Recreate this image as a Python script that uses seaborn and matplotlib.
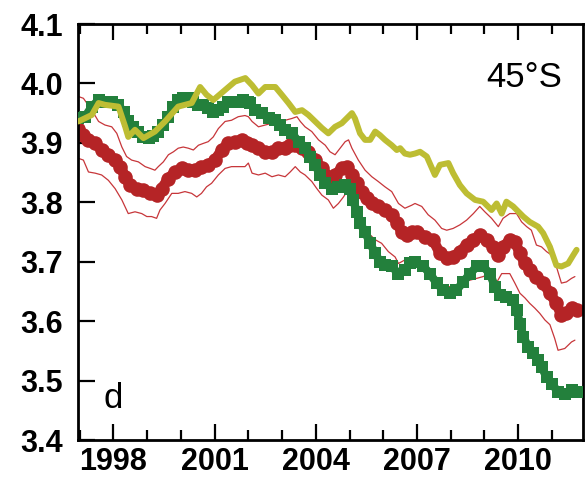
import matplotlib
matplotlib.use("Agg")
import matplotlib.pyplot as plt
import seaborn as sns
import pandas as pd
from matplotlib.ticker import MultipleLocator

# ---- series (decimal year, value) ----
olive_year = [1996.96, 1997.36, 1997.56, 1997.75, 1998.15, 1998.35, 1998.44, 1998.64, 1998.89,
              1999.23, 1999.53, 1999.92, 2000.32, 2000.57, 2000.76, 2000.96, 2001.31, 2001.60,
              2001.91, 2002.11, 2002.30, 2002.50, 2002.80, 2002.99, 2003.19, 2003.39, 2003.59,
              2003.78, 2003.98, 2004.18, 2004.37, 2004.57, 2004.77, 2005.07, 2005.16, 2005.31,
              2005.46, 2005.61, 2005.76, 2005.90, 2006.05, 2006.25, 2006.40, 2006.50, 2006.64,
              2006.79, 2006.94, 2007.09, 2007.29, 2007.53, 2007.68, 2007.93, 2008.07, 2008.27,
              2008.47, 2008.72, 2008.96, 2009.21, 2009.36, 2009.51, 2009.65, 2009.85, 2010.15,
              2010.34, 2010.59, 2010.74, 2010.94, 2011.13, 2011.28, 2011.48, 2011.63, 2011.73]
olive_val = [3.936, 3.947, 3.967, 3.964, 3.961, 3.927, 3.910, 3.922, 3.908,
             3.919, 3.936, 3.961, 3.967, 3.994, 3.981, 3.972, 3.989, 4.003,
             4.009, 3.997, 3.983, 3.994, 3.994, 3.981, 3.967, 3.952, 3.955,
             3.947, 3.936, 3.925, 3.916, 3.927, 3.933, 3.950, 3.941, 3.916,
             3.905, 3.905, 3.919, 3.913, 3.905, 3.896, 3.888, 3.891, 3.882,
             3.880, 3.882, 3.885, 3.877, 3.846, 3.863, 3.866, 3.849, 3.829,
             3.815, 3.804, 3.801, 3.787, 3.798, 3.781, 3.801, 3.793, 3.776,
             3.767, 3.759, 3.748, 3.725, 3.694, 3.692, 3.697, 3.711, 3.720]

green_year = [1996.96, 1997.16, 1997.36, 1997.56, 1997.75, 1997.95, 1998.15, 1998.30, 1998.44,
              1998.59, 1998.74, 1998.89, 1999.04, 1999.18, 1999.33, 1999.48, 1999.63, 1999.78,
              1999.92, 2000.07, 2000.22, 2000.37, 2000.52, 2000.66, 2000.81, 2000.96, 2001.11,
              2001.26, 2001.40, 2001.55, 2001.70, 2001.85, 2002.00, 2002.06, 2002.20, 2002.40,
              2002.60, 2002.80, 2002.94, 2003.09, 2003.29, 2003.49, 2003.68, 2003.83, 2003.98,
              2004.13, 2004.28, 2004.47, 2004.67, 2004.87, 2005.02, 2005.11, 2005.21, 2005.31,
              2005.46, 2005.61, 2005.76, 2005.90, 2006.05, 2006.25, 2006.45, 2006.64, 2006.79,
              2006.94, 2007.19, 2007.38, 2007.58, 2007.78, 2007.98, 2008.17, 2008.37, 2008.57,
              2008.77, 2008.96, 2009.16, 2009.31, 2009.46, 2009.65, 2009.85, 2009.95, 2010.05,
              2010.15, 2010.29, 2010.44, 2010.59, 2010.69, 2010.84, 2010.99, 2011.18, 2011.38,
              2011.58, 2011.73]
green_val = [3.941, 3.944, 3.961, 3.972, 3.969, 3.968, 3.964, 3.952, 3.936,
             3.927, 3.919, 3.910, 3.908, 3.912, 3.919, 3.930, 3.944, 3.961,
             3.972, 3.975, 3.975, 3.969, 3.964, 3.964, 3.958, 3.952, 3.955,
             3.961, 3.968, 3.969, 3.969, 3.972, 3.969, 3.967, 3.955, 3.950,
             3.941, 3.938, 3.930, 3.922, 3.916, 3.902, 3.891, 3.877, 3.863,
             3.846, 3.832, 3.823, 3.826, 3.829, 3.823, 3.804, 3.784, 3.765,
             3.750, 3.731, 3.714, 3.700, 3.694, 3.692, 3.680, 3.686, 3.697,
             3.700, 3.692, 3.680, 3.664, 3.652, 3.647, 3.652, 3.666, 3.680,
             3.692, 3.692, 3.680, 3.658, 3.644, 3.641, 3.636, 3.619, 3.596,
             3.574, 3.557, 3.546, 3.535, 3.523, 3.506, 3.495, 3.481, 3.478,
             3.484, 3.481]

red_year = [1996.96, 1997.11, 1997.26, 1997.46, 1997.65, 1997.85, 1998.05, 1998.20, 1998.35,
            1998.49, 1998.69, 1998.89, 1999.09, 1999.28, 1999.43, 1999.63, 1999.83, 2000.02,
            2000.22, 2000.42, 2000.61, 2000.81, 2001.01, 2001.21, 2001.40, 2001.60, 2001.80,
            2001.95, 2002.11, 2002.30, 2002.50, 2002.70, 2002.89, 2003.09, 2003.24, 2003.39,
            2003.59, 2003.78, 2003.98, 2004.18, 2004.37, 2004.57, 2004.77, 2004.92, 2005.07,
            2005.21, 2005.36, 2005.51, 2005.66, 2005.85, 2006.05, 2006.25, 2006.40, 2006.55,
            2006.69, 2006.84, 2006.99, 2007.24, 2007.48, 2007.68, 2007.88, 2008.07, 2008.27,
            2008.47, 2008.67, 2008.86, 2009.06, 2009.26, 2009.41, 2009.55, 2009.75, 2009.90,
            2010.05, 2010.20, 2010.34, 2010.54, 2010.74, 2010.94, 2011.13, 2011.28, 2011.43,
            2011.58, 2011.73]
red_val = [3.924, 3.913, 3.905, 3.899, 3.888, 3.880, 3.871, 3.860, 3.843,
           3.829, 3.823, 3.821, 3.815, 3.812, 3.823, 3.840, 3.851, 3.857,
           3.854, 3.854, 3.860, 3.863, 3.871, 3.888, 3.899, 3.902, 3.905,
           3.899, 3.896, 3.891, 3.885, 3.885, 3.891, 3.891, 3.896, 3.896,
           3.891, 3.885, 3.871, 3.857, 3.843, 3.846, 3.857, 3.860, 3.846,
           3.832, 3.818, 3.807, 3.798, 3.793, 3.787, 3.779, 3.765, 3.750,
           3.745, 3.750, 3.750, 3.742, 3.736, 3.714, 3.706, 3.708, 3.717,
           3.728, 3.736, 3.745, 3.736, 3.725, 3.711, 3.725, 3.736, 3.734,
           3.714, 3.697, 3.686, 3.675, 3.664, 3.647, 3.630, 3.610, 3.613,
           3.622, 3.619]

upper_year = [1996.96, 1997.11, 1997.21, 1997.36, 1997.56, 1997.75, 1997.95, 1998.10, 1998.25,
              1998.39, 1998.54, 1998.74, 1998.94, 1999.09, 1999.23, 1999.33, 1999.48, 1999.63,
              1999.78, 1999.92, 2000.07, 2000.22, 2000.37, 2000.52, 2000.66, 2000.81, 2000.96,
              2001.11, 2001.31, 2001.50, 2001.70, 2001.90, 2002.00, 2002.11, 2002.30, 2002.50,
              2002.70, 2002.89, 2003.09, 2003.29, 2003.44, 2003.54, 2003.68, 2003.88, 2004.08,
              2004.28, 2004.42, 2004.57, 2004.72, 2004.87, 2004.97, 2005.07, 2005.26, 2005.46,
              2005.66, 2005.85, 2006.05, 2006.25, 2006.45, 2006.64, 2006.84, 2006.94, 2007.14,
              2007.33, 2007.53, 2007.73, 2007.88, 2008.07, 2008.27, 2008.47, 2008.67, 2008.86,
              2009.01, 2009.21, 2009.41, 2009.55, 2009.75, 2009.95, 2010.10, 2010.25, 2010.39,
              2010.54, 2010.69, 2010.84, 2010.99, 2011.13, 2011.28, 2011.43, 2011.58, 2011.68]
upper_val = [3.978, 3.975, 3.967, 3.955, 3.936, 3.930, 3.927, 3.916, 3.893,
             3.877, 3.871, 3.868, 3.860, 3.857, 3.854, 3.860, 3.868, 3.880,
             3.885, 3.891, 3.893, 3.891, 3.888, 3.896, 3.899, 3.902, 3.910,
             3.924, 3.936, 3.938, 3.944, 3.946, 3.944, 3.936, 3.927, 3.930,
             3.933, 3.933, 3.938, 3.941, 3.944, 3.936, 3.927, 3.919, 3.905,
             3.896, 3.885, 3.880, 3.891, 3.902, 3.905, 3.891, 3.871, 3.854,
             3.843, 3.835, 3.826, 3.818, 3.798, 3.790, 3.795, 3.798, 3.793,
             3.779, 3.770, 3.756, 3.753, 3.756, 3.762, 3.770, 3.781, 3.793,
             3.784, 3.773, 3.759, 3.773, 3.781, 3.781, 3.767, 3.759, 3.753,
             3.728, 3.725, 3.717, 3.711, 3.692, 3.664, 3.666, 3.672, 3.675]

lower_year = [1996.96, 1997.11, 1997.26, 1997.46, 1997.65, 1997.85, 1998.05, 1998.25, 1998.44,
              1998.64, 1998.84, 1998.99, 1999.13, 1999.28, 1999.38, 1999.53, 1999.73, 1999.92,
              2000.12, 2000.32, 2000.47, 2000.61, 2000.76, 2000.91, 2001.11, 2001.31, 2001.50,
              2001.70, 2001.90, 2002.00, 2002.11, 2002.30, 2002.50, 2002.70, 2002.89, 2003.09,
              2003.24, 2003.39, 2003.54, 2003.68, 2003.88, 2004.03, 2004.18, 2004.37, 2004.52,
              2004.67, 2004.82, 2004.92, 2005.07, 2005.21, 2005.36, 2005.56, 2005.76, 2005.95,
              2006.15, 2006.35, 2006.45, 2006.64, 2006.84, 2006.94, 2007.19, 2007.38, 2007.58,
              2007.78, 2007.98, 2008.17, 2008.37, 2008.57, 2008.77, 2008.96, 2009.16, 2009.31,
              2009.51, 2009.75, 2009.90, 2010.05, 2010.20, 2010.34, 2010.49, 2010.64, 2010.79,
              2010.94, 2011.08, 2011.18, 2011.38, 2011.58, 2011.68]
lower_val = [3.874, 3.871, 3.851, 3.849, 3.846, 3.837, 3.823, 3.804, 3.781,
             3.784, 3.781, 3.776, 3.776, 3.773, 3.787, 3.798, 3.815, 3.815,
             3.818, 3.815, 3.809, 3.815, 3.826, 3.832, 3.846, 3.857, 3.860,
             3.860, 3.860, 3.866, 3.849, 3.846, 3.849, 3.843, 3.846, 3.843,
             3.851, 3.860, 3.851, 3.846, 3.835, 3.823, 3.812, 3.804, 3.790,
             3.798, 3.809, 3.818, 3.804, 3.781, 3.765, 3.748, 3.737, 3.731,
             3.717, 3.708, 3.697, 3.703, 3.708, 3.703, 3.686, 3.675, 3.664,
             3.658, 3.658, 3.661, 3.666, 3.669, 3.672, 3.675, 3.680, 3.660,
             3.680, 3.680, 3.664, 3.647, 3.639, 3.630, 3.622, 3.613, 3.602,
             3.594, 3.571, 3.551, 3.554, 3.565, 3.568]

x_major = [1998, 2001, 2004, 2007, 2010]
y_major = [3.4, 3.5, 3.6, 3.7, 3.8, 3.9, 4.0, 4.1]
panel_label = "d"
region_label = "45°S"

OLIVE = "#bdbd33"
RED = "#b52426"
GREEN = "#23803c"
THIN_RED = "#c7363a"

sns.set_style("ticks")
plt.rcParams["font.family"] = ["Liberation Sans", "DejaVu Sans"]
plt.rcParams["text.color"] = "black"
plt.rcParams["xtick.color"] = "black"
plt.rcParams["ytick.color"] = "black"
plt.rcParams["xtick.labelcolor"] = "black"
plt.rcParams["ytick.labelcolor"] = "black"

fig = plt.figure(figsize=(5.88, 4.92), dpi=100)
ax = fig.add_axes([78 / 588, 1 - 440 / 492, 505 / 588, 416 / 492])

bands = pd.DataFrame({"year": upper_year, "value": upper_val})
sns.lineplot(data=bands, x="year", y="value", ax=ax, color=THIN_RED, lw=0.9, zorder=1)
bands = pd.DataFrame({"year": lower_year, "value": lower_val})
sns.lineplot(data=bands, x="year", y="value", ax=ax, color=THIN_RED, lw=0.9, zorder=1)

red_df = pd.DataFrame({"year": red_year, "value": red_val})
sns.lineplot(data=red_df, x="year", y="value", ax=ax, color=RED, lw=7.5,
             marker="o", markersize=10.5, markeredgewidth=0, zorder=2)

green_df = pd.DataFrame({"year": green_year, "value": green_val})
sns.lineplot(data=green_df, x="year", y="value", ax=ax, color=GREEN, lw=6,
             marker="s", markersize=8.5, markeredgewidth=0, zorder=3)

olive_df = pd.DataFrame({"year": olive_year, "value": olive_val})
sns.lineplot(data=olive_df, x="year", y="value", ax=ax, color=OLIVE, lw=4.3,
             solid_joinstyle="round", solid_capstyle="round", zorder=4)

ax.set_xlim(1996.95, 2011.92)
ax.set_ylim(3.4, 4.1)
ax.set_xticks(x_major)
ax.set_xticklabels([str(v) for v in x_major], fontweight="bold", color="black")
ax.xaxis.set_minor_locator(MultipleLocator(1))
ax.set_yticks(y_major)
ax.set_yticklabels([f"{v:.1f}" for v in y_major], fontweight="bold", color="black")
ax.set_xlabel("")
ax.set_ylabel("")

for side in ["left", "right", "top", "bottom"]:
    ax.spines[side].set_visible(True)
    ax.spines[side].set_linewidth(2.0)
    ax.spines[side].set_color("black")

ax.tick_params(axis="x", which="both", direction="in", top=True, bottom=True,
               width=1.6, color="black", labelsize=22, pad=5)
ax.tick_params(axis="x", which="major", length=11.5)
ax.tick_params(axis="x", which="minor", length=7.5)
ax.tick_params(axis="y", which="major", direction="in", left=True, right=False,
               length=12, width=1.6, color="black", labelsize=22, pad=11)
ax.tick_params(axis="y", which="minor", left=False, right=False)

ax.text(0.958, 0.849, region_label, transform=ax.transAxes, ha="right",
        va="baseline", fontsize=25, color="black")
ax.text(0.05, 0.077, panel_label, transform=ax.transAxes, ha="left",
        va="baseline", fontsize=25, color="black")

fig.savefig("out.png", dpi=100)
